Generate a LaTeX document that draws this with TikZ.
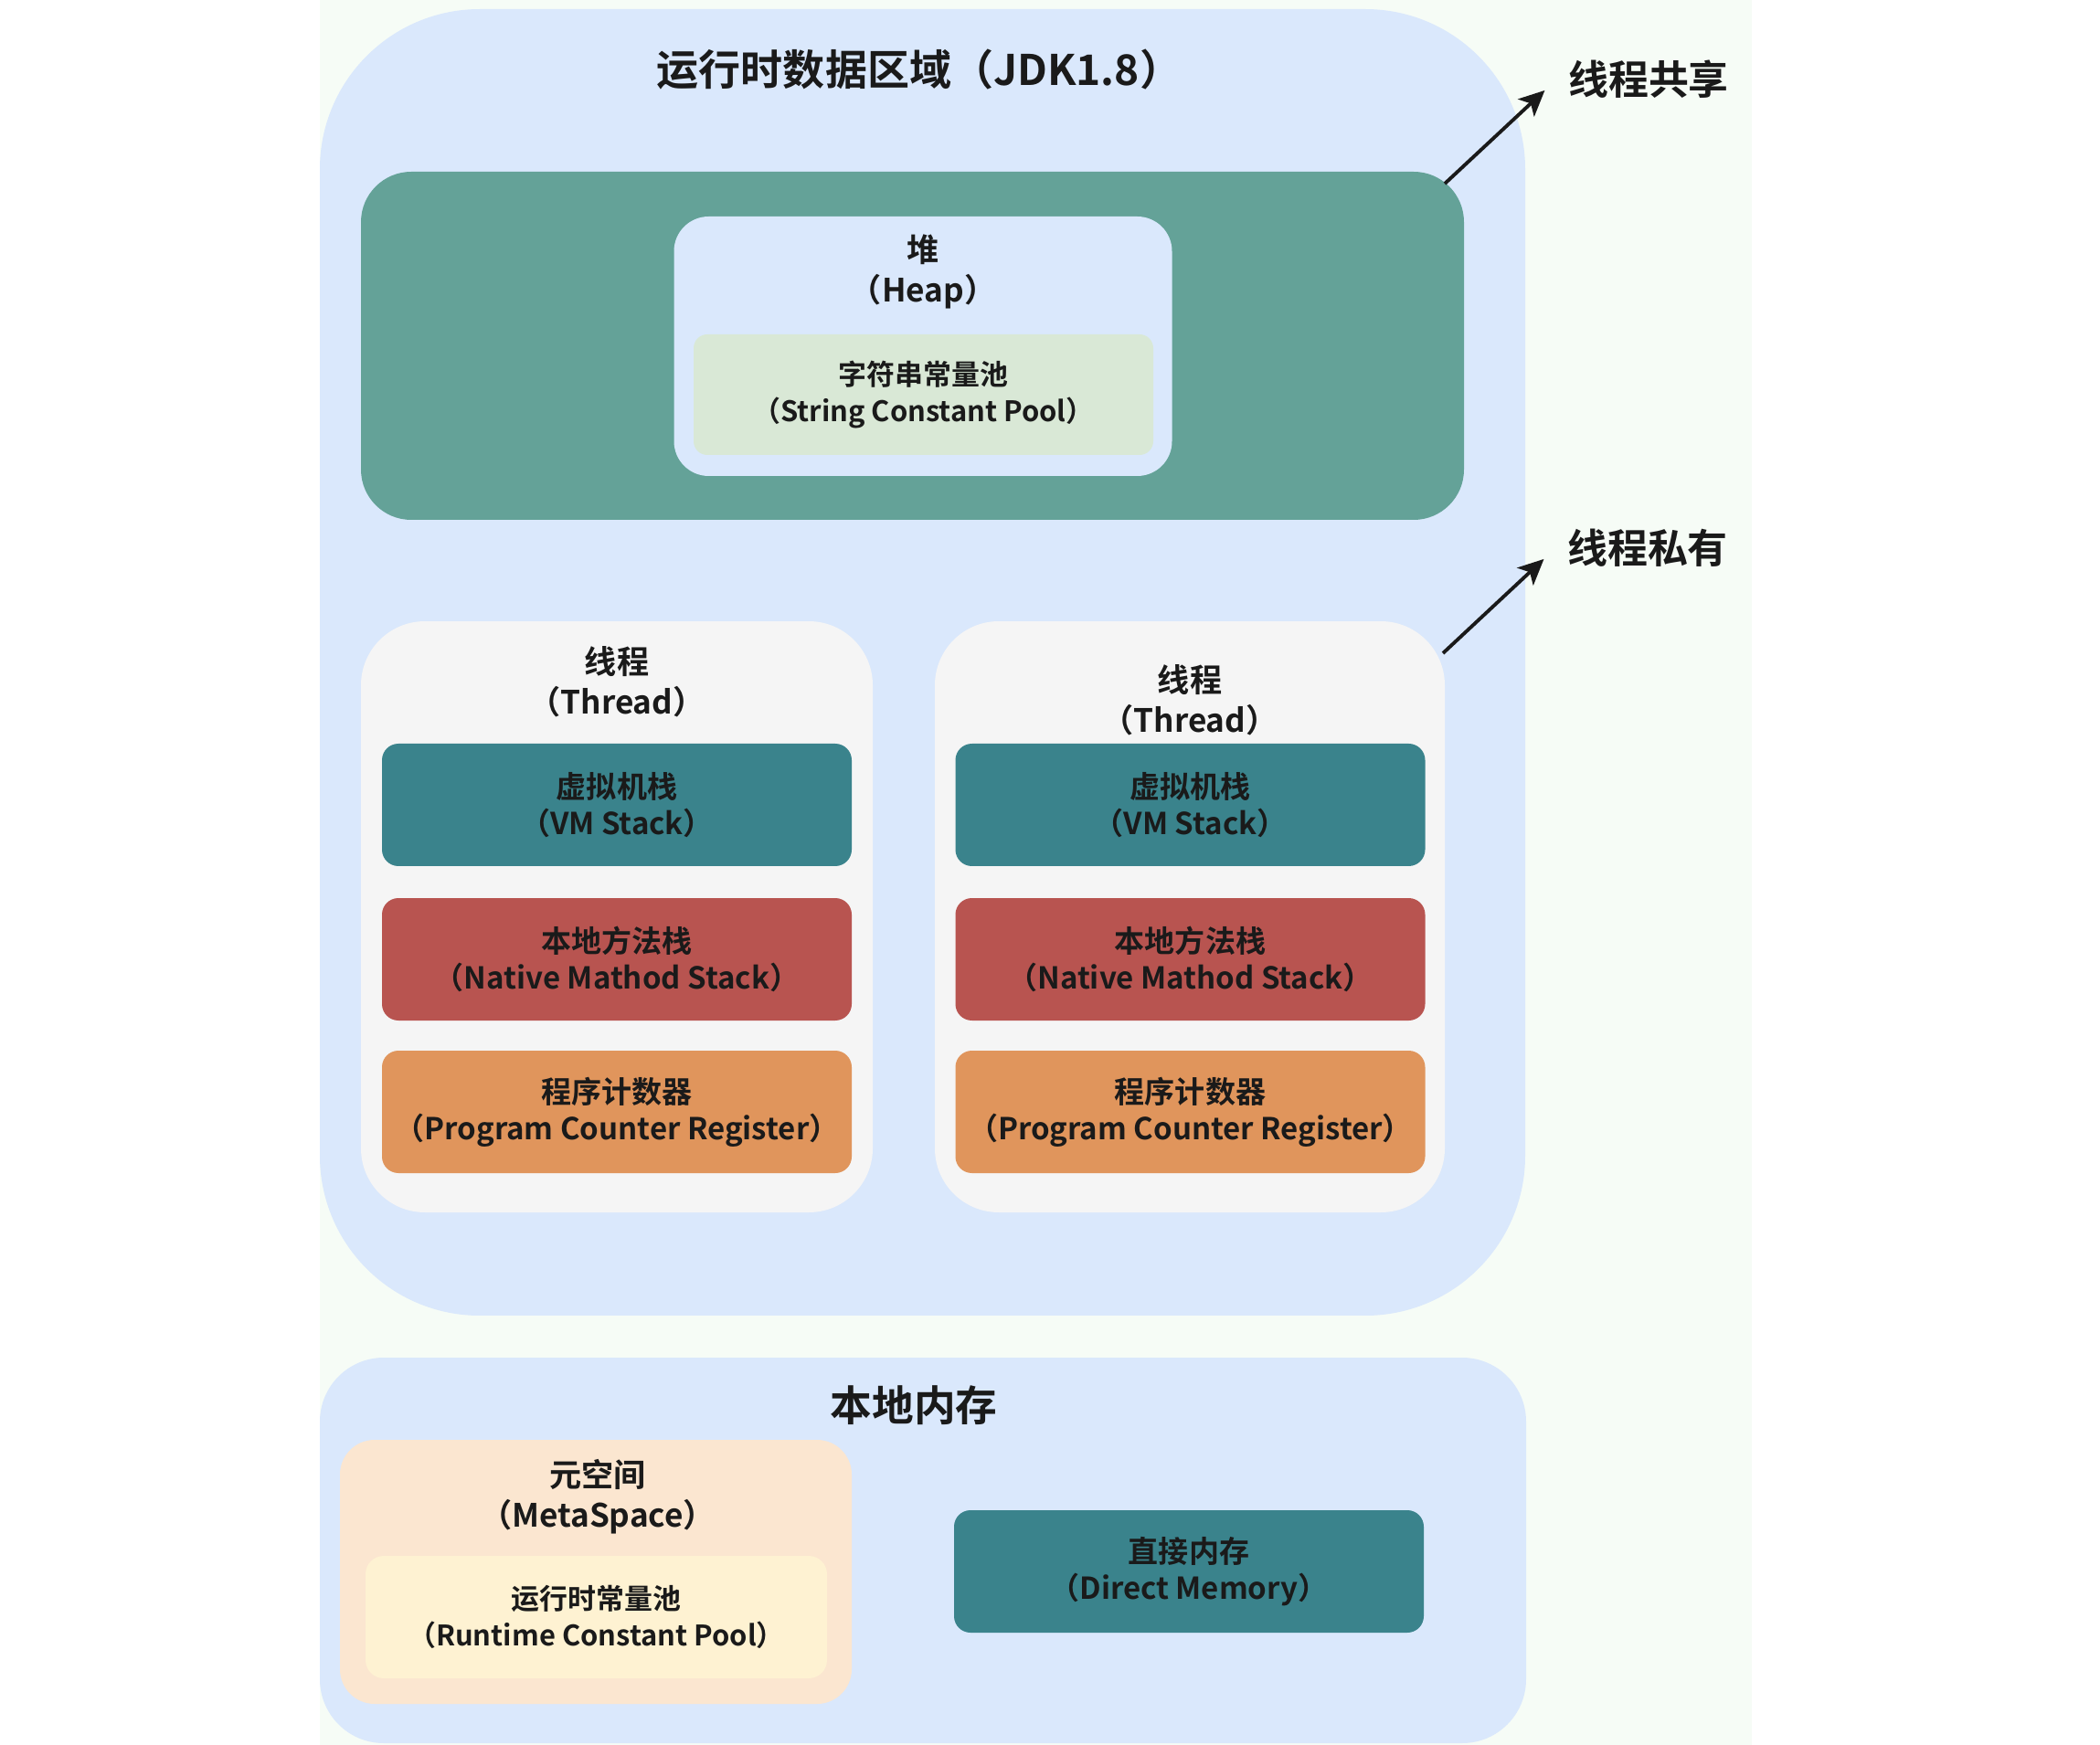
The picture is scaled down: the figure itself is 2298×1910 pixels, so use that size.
\documentclass[tikz,border=0pt]{standalone}
\usepackage{fontspec}
\setmainfont{Noto Sans CJK SC}[BoldFont=* Bold]
\usetikzlibrary{arrows.meta}
\definecolor{mint}{HTML}{F6FCF6}
\definecolor{areablue}{HTML}{DAE8FC}
\definecolor{heapgreen}{HTML}{64A298}
\definecolor{poolgreen}{HTML}{D9E8D6}
\definecolor{threadgray}{HTML}{F5F5F5}
\definecolor{stackteal}{HTML}{3A838C}
\definecolor{nativered}{HTML}{B85450}
\definecolor{pcorange}{HTML}{E0955C}
\definecolor{metapeach}{HTML}{FBE6D0}
\definecolor{poolyellow}{HTML}{FEF2D2}
\definecolor{ink}{HTML}{1A1A1A}

\begin{document}
\begin{tikzpicture}[x=0.1mm,y=-0.1mm,
  box/.style={inner sep=0pt, outer sep=0pt},
  bar/.style={box, rounded corners=1.8mm, minimum width=51.4mm, minimum height=13.4mm,
    font=\bfseries\fontsize{9.4}{11.3}\selectfont, text=ink, align=center},
  lbl/.style={font=\bfseries\fontsize{10}{12.5}\selectfont, text=ink, align=center, inner sep=0pt},
  big/.style={font=\bfseries\fontsize{13.1}{16}\selectfont, text=ink, inner sep=0pt},
  side/.style={font=\bfseries\fontsize{12.5}{15}\selectfont, text=ink, inner ysep=0pt, inner xsep=2.5mm},
  arr/.style={-{Stealth[length=2.8mm,width=2.6mm,inset=0.7mm]}, line width=1.1pt, ink}]
\useasboundingbox (0,0) rectangle (2298,1910);
\fill[mint] (350,0) rectangle (1917,1910);

% runtime data area
\node[box, fill=areablue, rounded corners=17.5mm, minimum width=131.9mm, minimum height=143mm] (rda) at (1009.5,725) {};
\node[big] (rdatitle) at (1006,76) {运行时数据区域（JDK1.8）};

% heap
\node[box, fill=heapgreen, rounded corners=5.5mm, minimum width=120.7mm, minimum height=38.1mm] (heapzone) at (998.5,378.5) {};
\node[box, fill=areablue, rounded corners=3.8mm, minimum width=54.5mm, minimum height=28.4mm] (heap) at (1010,379) {};
\node[lbl] (heaptext) at (1010,297) {堆\\（Heap）};
\node[bar, fill=poolgreen, rounded corners=1.5mm, minimum width=50.3mm, minimum height=13.2mm,
  font=\bfseries\fontsize{8.8}{11.3}\selectfont] (strpool) at (1010.5,432) {字符串常量池\\（String Constant Pool）};

% threads
\node[box, fill=threadgray, rounded corners=7mm, minimum width=56mm, minimum height=64.7mm] (threadl) at (675,1003.5) {};
\node[lbl] (threadltext) at (675,746) {线程\\（Thread）};
\node[bar, fill=stackteal] (vml) at (675,881) {虚拟机栈\\（VM Stack）};
\node[bar, fill=nativered] (nativel) at (675,1050) {本地方法栈\\（Native Mathod Stack）};
\node[bar, fill=pcorange] (pcl) at (675,1217) {程序计数器\\（Program Counter Register）};

\node[box, fill=threadgray, rounded corners=7mm, minimum width=55.8mm, minimum height=64.7mm] (threadr) at (1302,1003.5) {};
\node[lbl] (threadrtext) at (1302,766) {线程\\（Thread）};
\node[bar, fill=stackteal] (vmr) at (1302.5,881) {虚拟机栈\\（VM Stack）};
\node[bar, fill=nativered] (nativer) at (1302.5,1050) {本地方法栈\\（Native Mathod Stack）};
\node[bar, fill=pcorange] (pcr) at (1302.5,1217) {程序计数器\\（Program Counter Register）};

% shared / private
\node[side] (sharelbl) at (1804,87) {线程共享};
\node[side] (privlbl) at (1803,600) {线程私有};
\coordinate (sharefrom) at (1581,201);
\coordinate (privfrom) at (1579,715);
\draw[arr] (sharefrom) -- (sharelbl.186);
\draw[arr] (privfrom) -- (privlbl.186);

% native memory
\node[box, fill=areablue, rounded corners=7mm, minimum width=132mm, minimum height=42.2mm] (nativemem) at (1010,1697) {};
\node[big, font=\bfseries\fontsize{13}{16}\selectfont] (nmtitle) at (1000,1538) {本地内存};
\node[box, fill=metapeach, rounded corners=3.8mm, minimum width=56mm, minimum height=28.9mm] (meta) at (652,1720.5) {};
\node[lbl] (metatext) at (654,1638) {元空间\\（MetaSpace）};
\node[bar, fill=poolyellow, rounded corners=2mm, minimum width=50.5mm,
  font=\bfseries\fontsize{8.8}{11.3}\selectfont] (rtpool) at (652.5,1770) {运行时常量池\\（Runtime Constant Pool）};
\node[bar, fill=stackteal] (direct) at (1301,1720) {直接内存\\（Direct Memory）};
\end{tikzpicture}
\end{document}
